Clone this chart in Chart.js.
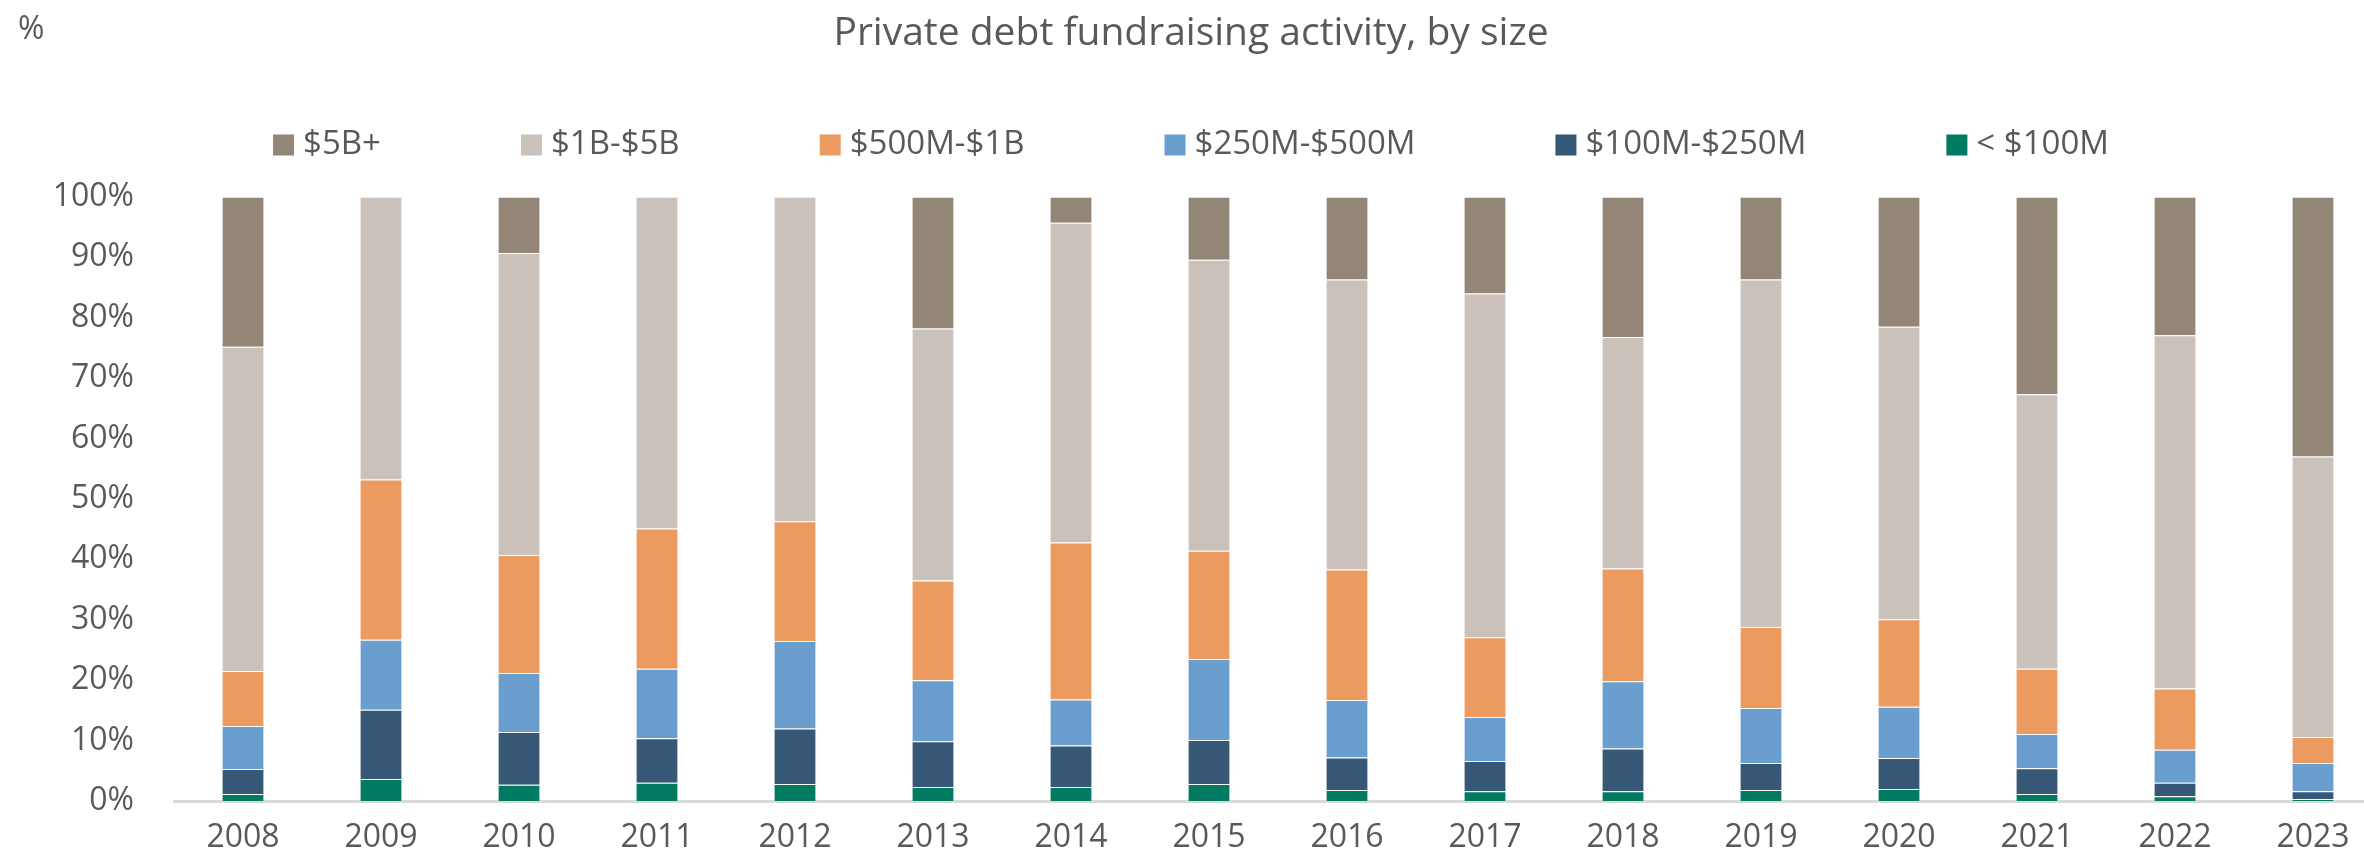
<!DOCTYPE html>
<html>
<head>
<meta charset="utf-8">
<title>Private debt fundraising activity, by size</title>
<script src="https://cdn.jsdelivr.net/npm/chart.js@4.4.0/dist/chart.umd.min.js"></script>
<style>
  html, body { margin: 0; padding: 0; background: #fff; overflow: hidden; }
  canvas { display: block; }
</style>
</head>
<body>
<canvas id="fundraising" width="2382" height="866"></canvas>
<script>
// share of capital raised per fund size bucket, %
var years = ["2008", "2009", "2010", "2011", "2012", "2013", "2014", "2015",
             "2016", "2017", "2018", "2019", "2020", "2021", "2022", "2023"];

var under100M   = [1.15, 3.65, 2.7, 3.0, 2.8, 2.3, 2.3, 2.8, 1.8, 1.6, 1.6, 1.8, 2.0, 1.15, 0.8, 0.35];
var m100to250   = [4.15, 11.45, 8.7, 7.4, 9.2, 7.6, 6.9, 7.3, 5.4, 5.0, 7.1, 4.5, 5.1, 4.25, 2.2, 1.25];
var m250to500   = [7.1, 11.6, 9.8, 11.5, 14.5, 10.1, 7.6, 13.4, 9.5, 7.3, 11.1, 9.1, 8.5, 5.7, 5.5, 4.7];
var m500to1B    = [9.1, 26.5, 19.5, 23.2, 19.8, 16.5, 26.0, 17.9, 21.6, 13.2, 18.7, 13.4, 14.5, 10.8, 10.1, 4.3];
var b1to5       = [53.7, 46.8, 50.0, 54.9, 53.7, 41.7, 52.9, 48.2, 48.0, 56.9, 38.3, 57.5, 48.4, 45.4, 58.5, 46.4];
var b5plus      = [24.8, 0, 9.3, 0, 0, 21.8, 4.3, 10.4, 13.7, 16.0, 23.2, 13.7, 21.5, 32.7, 22.9, 43.0];

var yTicks = [0, 10, 20, 30, 40, 50, 60, 70, 80, 90, 100];

var textColor = "#595959";
var fontFamily = "'Open Sans', 'Noto Sans', sans-serif";

function series(label, values, colour) {
	return {
		label : label,
		data : values,
		backgroundColor : colour,
		borderColor : "rgba(255,255,255,0.45)",
		borderWidth : 1,
		barPercentage : 0.31,
		categoryPercentage : 1
	};
}

// "%" unit mark and the legend row sit in the gap under the title
var headerText = {
	id : "headerText",
	afterDraw : function(chart) {
		var ctx = chart.ctx;
		ctx.save();
		ctx.fillStyle = textColor;
		ctx.textBaseline = "middle";
		ctx.textAlign = "left";
		ctx.font = "32px " + fontFamily;
		ctx.fillText("%", 18, 30);

		ctx.font = "33px " + fontFamily;
		var items = chart.data.datasets.slice().reverse();
		var box = 21, gap = 9, spacing = 140, y = 145;
		var widths = items.map(function(d) { return box + gap + ctx.measureText(d.label).width; });
		var total = widths.reduce(function(a, b) { return a + b; }, 0) + spacing * (items.length - 1);
		var x = (chart.width - total) / 2;
		items.forEach(function(d, i) {
			ctx.fillStyle = d.backgroundColor;
			ctx.fillRect(x, y - box / 2, box, box);
			ctx.fillStyle = textColor;
			ctx.fillText(d.label, x + box + gap, y);
			x += widths[i] + spacing;
		});
		ctx.restore();
	}
};

var ctx = document.getElementById("fundraising");

var data = {
	labels : years,
	datasets : [
		series("< $100M", under100M, "#007b62"),
		series("$100M-$250M", m100to250, "#365775"),
		series("$250M-$500M", m250to500, "#6a9ecf"),
		series("$500M-$1B", m500to1B, "#eb9a60"),
		series("$1B-$5B", b1to5, "#cac1ba"),
		series("$5B+", b5plus, "#948677")
	]
};

var options = {
	responsive : false,
	animation : false,
	layout : { padding : 0 },
	plugins : {
		legend : { display : false },
		tooltip : { enabled : false },
		title : {
			display : true,
			text : "Private debt fundraising activity, by size",
			color : textColor,
			font : { family : fontFamily, size : 39, weight : "normal" },
			padding : { top : 10, bottom : 140 }
		}
	},
	scales : {
		x : {
			stacked : true,
			grid : { display : false },
			border : { display : true, color : "#d9d9d9", width : 3 },
			ticks : {
				color : textColor,
				font : { family : fontFamily, size : 32 },
				padding : 10,
				maxRotation : 0
			},
			afterFit : function(scale) { scale.height = 65; }
		},
		y : {
			stacked : true,
			min : 0,
			max : 100,
			grid : { display : false },
			border : { display : false },
			afterBuildTicks : function(scale) {
				scale.ticks = yTicks.map(function(v) { return { value : v }; });
			},
			ticks : {
				color : textColor,
				font : { family : fontFamily, size : 32 },
				padding : 32,
				callback : function(v) { return v + "%"; }
			},
			afterFit : function(scale) { scale.width = 174; }
		}
	}
};

var chart = new Chart(ctx, {
	type : "bar",
	data : data,
	options : options,
	plugins : [headerText]
});
</script>
</body>
</html>
